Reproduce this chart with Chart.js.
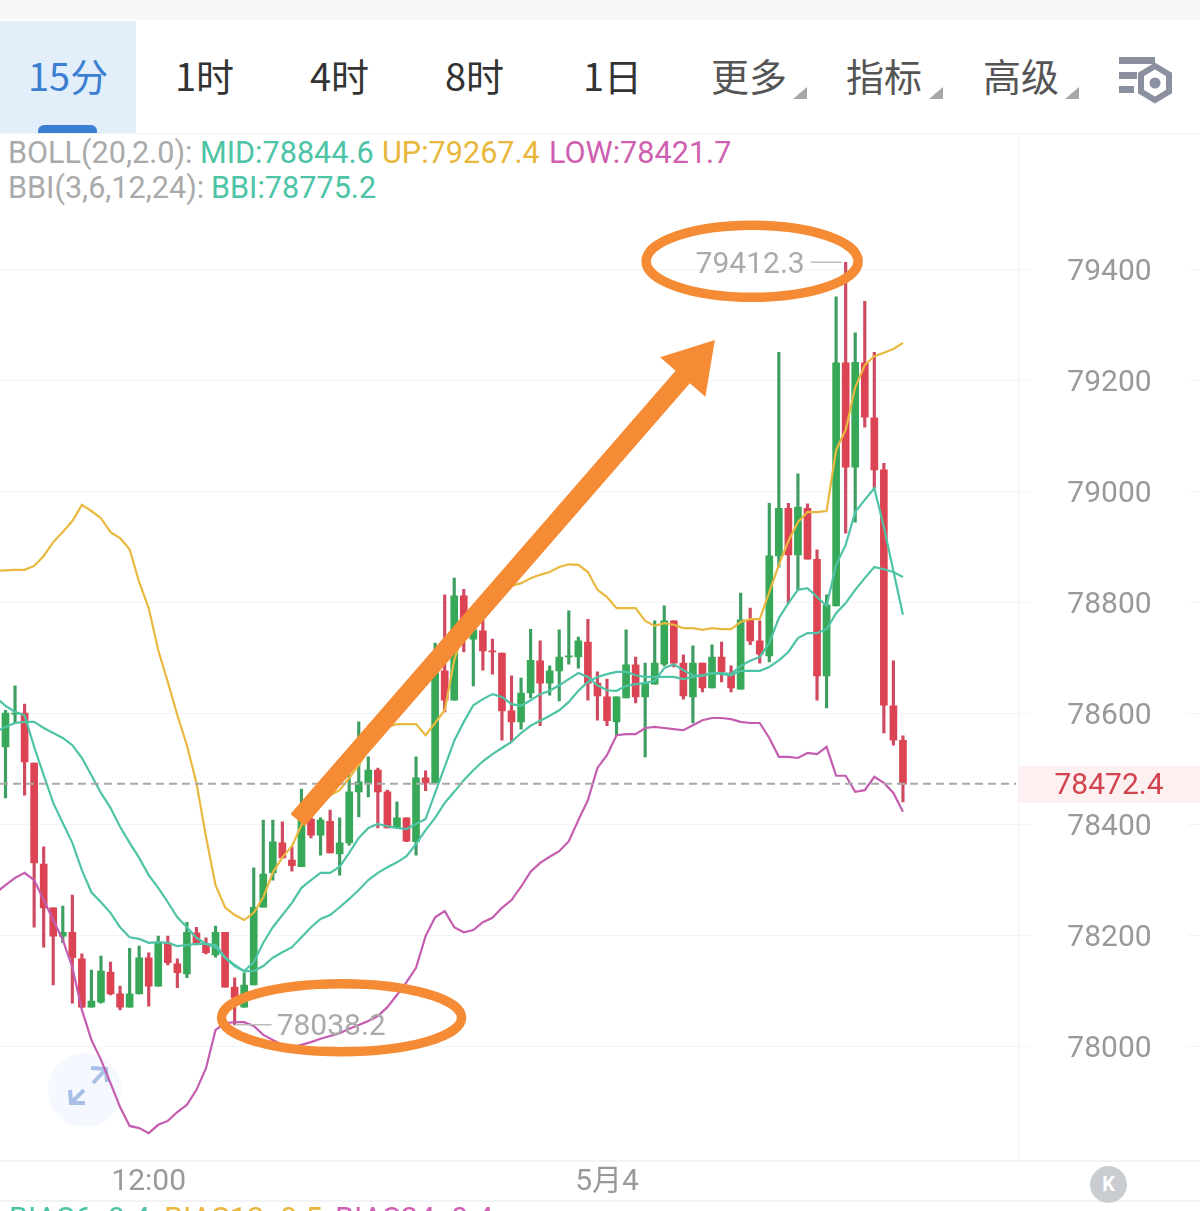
<!DOCTYPE html>
<html lang="zh-CN">
<head>
<meta charset="UTF-8" />
<title>15分 K线</title>
<script src="https://cdn.jsdelivr.net/npm/chart.js"></script>
<style>
  html, body { margin: 0; padding: 0; background: #fff; width: 1200px; height: 1211px; overflow: hidden; }
  #page { position: relative; width: 1200px; height: 1211px; overflow: hidden; font-family: Roboto, "Noto Sans CJK SC", sans-serif; }
  #page > * { position: absolute; }
  canvas { left: 0; top: 0; }
  .tab { top: 49px; font: 400 38px/52px "Noto Sans CJK SC", sans-serif; color: #333; white-space: nowrap; }
  .tab.gray { color: #555; }
  .leg { font-size: 30.6px; line-height: 36px; white-space: nowrap; }
  .rule { background: #f2f3f5; }
  .tri { width: 0; height: 0; border-left: 14px solid transparent; border-bottom: 12px solid #a8a8a8; top: 87px; }
</style>
</head>
<body>
<div id="page">
  <div style="left:0;top:0;width:1200px;height:20px;background:#f6f7f9"></div>
  <div style="left:0;top:21px;width:136px;height:112px;background:#e3eefb"></div>
  <div style="left:38px;top:125px;width:59px;height:8px;background:#3b7fd4;border-radius:6px 6px 0 0"></div>
  <span class="tab" style="left:28px;color:#3a7fd0">15分</span>
  <span class="tab" style="left:175px">1时</span>
  <span class="tab" style="left:310px">4时</span>
  <span class="tab" style="left:445px">8时</span>
  <span class="tab" style="left:583px">1日</span>
  <span class="tab gray" style="left:711px">更多</span>
  <span class="tab gray" style="left:846px">指标</span>
  <span class="tab gray" style="left:983px">高级</span>
  <div class="tri" style="left:793px"></div>
  <div class="tri" style="left:929px"></div>
  <div class="tri" style="left:1065px"></div>
  <svg style="left:1110px;top:50px" width="70" height="56" viewBox="1110 50 70 56">
    <rect x="1119" y="57" width="36" height="7" fill="#8b90a0"/>
    <rect x="1119" y="72" width="18" height="7" fill="#8b90a0"/>
    <rect x="1119" y="86" width="15" height="7" fill="#8b90a0"/>
    <polygon points="1155,66 1169,74.500 1169,91.500 1155,100 1141,91.500 1141,74.500" fill="none" stroke="#8b90a0" stroke-width="6"/>
    <circle cx="1155" cy="83" r="5.500" fill="#8b90a0"/>
  </svg>

  <div class="rule" style="left:0;top:133px;width:1200px;height:1px"></div>
  <div class="rule" style="left:1018px;top:133px;width:1px;height:1027px"></div>
  <div class="rule" style="left:0;top:1160px;width:1200px;height:2px"></div>
  <div class="rule" style="left:0;top:1200px;width:1200px;height:2px"></div>

  <span class="leg" style="left:8px;top:135px;color:#aaa">BOLL(20,2.0):</span>
  <span class="leg" style="left:200px;top:135px;color:#4dc4a6">MID:78844.6</span>
  <span class="leg" style="left:382px;top:135px;color:#e8b73c">UP:79267.4</span>
  <span class="leg" style="left:549px;top:135px;color:#cf5fb0">LOW:78421.7</span>
  <span class="leg" style="left:8px;top:170px;color:#aaa">BBI(3,6,12,24):</span>
  <span class="leg" style="left:211px;top:170px;color:#4dc4a6">BBI:78775.2</span>

  <svg style="left:45px;top:1050px" width="80" height="80" viewBox="45 1050 80 80">
    <circle cx="85" cy="1090" r="37" fill="#f5f8fe"/>
    <path d="M91 1068 L106 1069 L107 1082 M106 1069 L93 1083 M70 1090 L71 1103 L85 1103 M71 1103 L84 1090" fill="none" stroke="#a9c0e6" stroke-width="4"/>
  </svg>

  <canvas id="kline" width="1200" height="1211"></canvas>

  <div style="left:1090px;top:1166px;width:37px;height:37px;border-radius:50%;background:#c9ccd0;color:#fff;font:700 20px/37px Roboto;text-align:center">K</div>

  <span class="leg" style="left:9px;top:1201px;color:#4dc4a6">BIAS6:-0.4</span>
  <span class="leg" style="left:164px;top:1201px;color:#e8b73c">BIAS12:-0.5</span>
  <span class="leg" style="left:335px;top:1201px;color:#cf5fb0">BIAS24:-0.4</span>
</div>

<script>
  // 15 min candles. first slot is off the left edge, only the lines show there
  const opens = [null,78539,78598,78600,78510,78328,78249,78198,78205,78157,78070,78079,78133,78094,78070,78094,78159,78108,78186,78148,78130,78204,78182,78164,78205,78106,78070,78110,78250,78312,78366,78335,78323,78409,78380,78405,78346,78366,78458,78474,78497,78458,78393,78411,78368,78483,78474,78676,78623,78811,78733,78748,78712,78708,78604,78584,78636,78694,78654,78676,78701,78701,78728,78654,78629,78584,78627,78687,78629,78652,78688,78766,78690,78629,78690,78645,78701,78672,78643,78769,78730,78703,78883,78969,78885,78969,78877,78667,78793,79231,79043,79231,79132,79038,78613,78551];
  const closes = [null,78600,78600,78512,78330,78249,78198,78205,78159,78070,78081,78135,78094,78070,78094,78159,78108,78187,78150,78132,78205,78184,78168,78205,78106,78087,78110,78250,78310,78368,78339,78325,78407,78380,78407,78348,78366,78458,78476,78497,78458,78393,78411,78369,78483,78474,78672,78623,78811,78762,78750,78712,78710,78604,78584,78636,78695,78654,78676,78701,78703,78730,78654,78631,78586,78629,78687,78629,78654,78690,78766,78690,78631,78690,78645,78701,78674,78645,78768,78730,78706,78883,78969,78885,78971,78877,78667,78795,79231,79043,79232,79133,79038,78614,78551,78472];
  const highs = [null,78605,78649,78616,78510,78359,78249,78252,78272,78166,78137,78162,78151,78108,78176,78180,78168,78198,78198,78157,78223,78214,78195,78216,78205,78123,78132,78321,78407,78407,78404,78359,78463,78413,78411,78425,78411,78488,78584,78521,78501,78461,78440,78411,78521,78496,78726,78813,78843,78823,78780,78768,78733,78708,78667,78663,78751,78730,78685,78750,78784,78737,78769,78674,78661,78629,78750,78701,78690,78766,78793,78766,78705,78721,78690,78723,78728,78685,78816,78789,78766,78978,79250,78978,79031,78977,78894,78813,79350,79412,79285,79342,79250,79050,78694,78559];
  const lows = [null,78447,78581,78452,78214,78178,78110,78186,78077,78069,78070,78077,78092,78065,78070,78094,78072,78108,78146,78105,78123,78182,78166,78160,78106,78038,78070,78110,78250,78299,78339,78315,78323,78375,78344,78348,78308,78362,78413,78449,78393,78393,78393,78368,78344,78460,78474,78602,78623,78710,78649,78677,78670,78551,78548,78571,78627,78577,78632,78622,78688,78681,78623,78587,78577,78560,78627,78618,78521,78652,78685,78683,78625,78582,78638,78645,78656,78638,78643,78723,78690,78692,78863,78798,78822,78877,78623,78609,78793,78924,78944,79115,79005,78564,78542,78440];

  const bollMid = [78566,78575,78582,78584,78584,78573,78564,78555,78542,78519,78488,78456,78429,78395,78366,78339,78308,78285,78259,78232,78214,78195,78184,78178,78159,78144,78135,78135,78144,78159,78169,78178,78196,78214,78229,78236,78250,78265,78281,78299,78312,78322,78331,78342,78364,78389,78411,78438,78458,78479,78497,78513,78526,78537,78548,78564,78577,78586,78595,78605,78620,78640,78656,78665,78670,78674,78674,78668,78665,78665,78665,78665,78661,78665,78668,78672,78670,78668,78676,78676,78676,78683,78695,78710,78735,78744,78744,78751,78780,78798,78822,78843,78863,78859,78854,78845];
  const bollUp = [78856,78857,78858,78858,78865,78883,78908,78926,78946,78975,78964,78951,78926,78915,78895,78836,78789,78713,78656,78596,78542,78474,78377,78290,78250,78236,78227,78240,78268,78313,78340,78360,78398,78423,78438,78452,78461,78483,78506,78533,78557,78575,78580,78580,78580,78560,78582,78605,78695,78750,78782,78804,78818,78825,78829,78834,78843,78849,78854,78863,78868,78867,78854,78822,78809,78789,78789,78789,78766,78757,78762,78759,78753,78753,78750,78753,78751,78751,78764,78769,78769,78818,78867,78910,78944,78962,78962,78964,79074,79110,79187,79227,79243,79249,79256,79267];
  const bollLow = [78276,78290,78303,78312,78299,78263,78227,78191,78142,78065,78011,77975,77933,77890,77856,77852,77843,77858,77865,77881,77894,77921,77960,78029,78041,78043,78043,78036,78020,78011,78002,77998,78002,78007,78013,78018,78023,78031,78038,78045,78054,78070,78092,78115,78141,78198,78232,78243,78214,78205,78209,78223,78231,78249,78263,78287,78314,78330,78341,78351,78369,78407,78443,78501,78524,78560,78562,78562,78573,78575,78573,78571,78569,78578,78587,78591,78591,78589,78584,78582,78582,78555,78521,78521,78519,78528,78526,78539,78487,78487,78458,78461,78485,78474,78456,78422];
  const bbi = [78628,78613,78602,78596,78539,78488,78438,78402,78366,78317,78277,78259,78240,78214,78196,78193,78186,78187,78186,78180,78182,78184,78184,78182,78160,78146,78135,78151,78186,78214,78236,78258,78285,78299,78312,78312,78323,78348,78375,78393,78400,78396,78393,78391,78400,78409,78456,78503,78550,78584,78614,78625,78634,78629,78616,78613,78623,78634,78640,78650,78661,78672,78665,78650,78641,78640,78649,78652,78654,78658,78681,78688,78677,78668,78667,78672,78672,78670,78685,78694,78701,78726,78771,78798,78822,78825,78809,78793,78867,78903,78962,78984,79005,78935,78856,78777];

  const priceTicks = [79400, 79200, 79000, 78800, 78600, 78400, 78200, 78000];
  const lastPrice = 78472.4;
  const highMark = { index: 89, price: 79412.3 };
  const lowMark = { index: 25, price: 78038.2 };
  const yMin = 77794.6, yMax = 79645.1;

  // orange notes somebody scribbled over the screenshot
  const highEllipse = { index: 79.2, price: 79414, rx: 106, ry: 36 };
  const lowEllipse = { index: 36.2, price: 78051, rx: 120, ry: 34 };
  const arrowTail = { index: 31.6, price: 78407 };
  const arrowTip = { index: 75.3, price: 79272 };

  // candles from 08:00, plus 12 empty slots to the right
  const categories = [];
  for (let i = 0; i < 108; i++) {
    const mins = (8 * 60 + i * 15) % (24 * 60);
    categories.push(String(Math.floor(mins / 60)).padStart(2, "0") + ":" + String(mins % 60).padStart(2, "0"));
  }

  const GREEN = "#36a857", RED = "#dc4453";
  const candleColors = opens.map((o, i) => closes[i] >= o ? GREEN : RED);
  const wickColors = opens.map((o, i) => closes[i] >= o ? "#3e9e62" : "#cf4a60");
  const bodies = opens.map((o, i) => o === null ? null : [o, closes[i]]);
  const wicks = lows.map((l, i) => l === null ? null : [l, highs[i]]);

  function lineSet(label, data, color) {
    return { type: "line", label, data, borderColor: color, borderWidth: 2.2, pointRadius: 0, tension: 0, fill: false, order: 0 };
  }

  const overlay = {
    id: "overlay",
    // the layout leaves a gap at the bottom and won't go left of 0, pin the plot box here
    afterLayout(chart) {
      const { x, y } = chart.scales;
      const area = { left: -8.82, right: 1022.3, top: 133, bottom: 1160 };
      Object.assign(x, { left: area.left, right: area.right, width: area.right - area.left, top: area.bottom, bottom: 1211, height: 51 });
      Object.assign(y, { left: area.right, right: 1200, width: 1200 - area.right, top: area.top, bottom: area.bottom, height: area.bottom - area.top });
      x.configure();
      y.configure();
      chart.chartArea = { ...area, width: area.right - area.left, height: area.bottom - area.top };
    },
    beforeDatasetsDraw(chart) {
      const { ctx, scales: { y } } = chart;
      ctx.save();
      ctx.strokeStyle = "#f3f4f6";
      ctx.lineWidth = 1;
      priceTicks.forEach(p => {
        const py = Math.round(y.getPixelForValue(p)) + 0.5;
        ctx.beginPath(); ctx.moveTo(1188, py); ctx.lineTo(1200, py); ctx.stroke();
      });
      ctx.restore();
    },
    afterDatasetsDraw(chart) {
      const { ctx, scales: { x, y } } = chart;
      const ax = m => x.getPixelForValue(m.index);
      const ay = m => y.getPixelForValue(m.price);
      ctx.save();

      // last price
      const ly = y.getPixelForValue(lastPrice);
      ctx.fillStyle = "#fdf0f0";
      ctx.fillRect(1019, ly - 18, 181, 37);
      ctx.strokeStyle = "#aaa";
      ctx.lineWidth = 2;
      ctx.setLineDash([8, 5]);
      ctx.beginPath(); ctx.moveTo(0, ly); ctx.lineTo(1016, ly); ctx.stroke();
      ctx.setLineDash([]);
      ctx.fillStyle = "#d3434f";
      ctx.font = "30px Roboto";
      ctx.textAlign = "center";
      ctx.textBaseline = "middle";
      ctx.fillText(lastPrice.toFixed(1), 1109, ly + 3);

      // high / low labels
      ctx.strokeStyle = "#bbb";
      ctx.fillStyle = "#aaa";
      ctx.lineWidth = 1.5;
      const hx = ax(highMark), hy = ay(highMark);
      ctx.beginPath(); ctx.moveTo(hx - 35, hy); ctx.lineTo(hx - 4, hy); ctx.stroke();
      ctx.textAlign = "right";
      ctx.fillText(highMark.price.toFixed(1), hx - 41, hy + 3);
      const lx = ax(lowMark), lly = ay(lowMark);
      ctx.beginPath(); ctx.moveTo(lx, lly); ctx.lineTo(lx + 37, lly); ctx.stroke();
      ctx.textAlign = "left";
      ctx.fillText(lowMark.price.toFixed(1), lx + 42, lly + 3);

      // ellipses
      ctx.strokeStyle = "#f58b35";
      ctx.lineWidth = 9.5;
      [highEllipse, lowEllipse].forEach(e => {
        ctx.beginPath();
        ctx.ellipse(ax(e), ay(e), e.rx, e.ry, 0, 0, Math.PI * 2);
        ctx.stroke();
      });

      // arrow
      const tx = ax(arrowTail), ty = ay(arrowTail), px = ax(arrowTip), py = ay(arrowTip);
      const len = Math.hypot(px - tx, py - ty);
      const ux = (px - tx) / len, uy = (py - ty) / len;
      const nx = -uy, ny = ux;
      const baseX = px - ux * 49, baseY = py - uy * 49;
      ctx.fillStyle = "#f58b35";
      ctx.beginPath();
      ctx.moveTo(tx + nx * 9.5, ty + ny * 9.5);
      ctx.lineTo(baseX + nx * 9.5, baseY + ny * 9.5);
      ctx.lineTo(baseX + nx * 30, baseY + ny * 30);
      ctx.lineTo(px, py);
      ctx.lineTo(baseX - nx * 30, baseY - ny * 30);
      ctx.lineTo(baseX - nx * 9.5, baseY - ny * 9.5);
      ctx.lineTo(tx - nx * 9.5, ty - ny * 9.5);
      ctx.closePath();
      ctx.fill();
      ctx.restore();
    }
  };

  new Chart(document.getElementById("kline").getContext("2d"), {
    type: "bar",
    data: {
      labels: categories,
      datasets: [
        { label: "wick", data: wicks, backgroundColor: wickColors, barThickness: 2.5, grouped: false, order: 2 },
        { label: "body", data: bodies, backgroundColor: candleColors, barThickness: 7, grouped: false, order: 1 },
        lineSet("BBI", bbi, "#4fc3a6"),
        lineSet("MID", bollMid, "#4fc3a6"),
        lineSet("UP", bollUp, "#e9b93f"),
        lineSet("LOW", bollLow, "#c45cb0")
      ]
    },
    options: {
      responsive: false,
      animation: false,
      layout: { autoPadding: false, padding: { top: 133 } },
      plugins: { legend: { display: false }, tooltip: { enabled: false } },
      scales: {
        x: {
          type: "category",
          offset: true,
          grid: { display: false },
          border: { display: false },
          afterFit: s => { s.height = 51; },
          ticks: {
            autoSkip: false,
            maxRotation: 0,
            minRotation: 0,
            padding: -4,
            color: "#999",
            font: { family: "Roboto, 'Noto Sans CJK SC'", size: 30 },
            callback(value, index) {
              if (categories[index] === "12:00") return "12:00";
              if (categories[index] === "00:00") return "5月4";
              return "";
            }
          }
        },
        y: {
          position: "right",
          min: yMin,
          max: yMax,
          afterFit: s => { s.width = 177.7; },
          afterBuildTicks: s => { s.ticks = priceTicks.map(value => ({ value })); },
          grid: { color: "#f3f4f6", lineWidth: 1, tickLength: 8 },
          border: { display: false },
          ticks: {
            padding: 37,
            labelOffset: 3,
            color: "#999",
            crossAlign: "near",
            font: { family: "Roboto", size: 30 },
            callback: v => String(v)
          }
        }
      }
    },
    plugins: [overlay]
  });
</script>
</body>
</html>
